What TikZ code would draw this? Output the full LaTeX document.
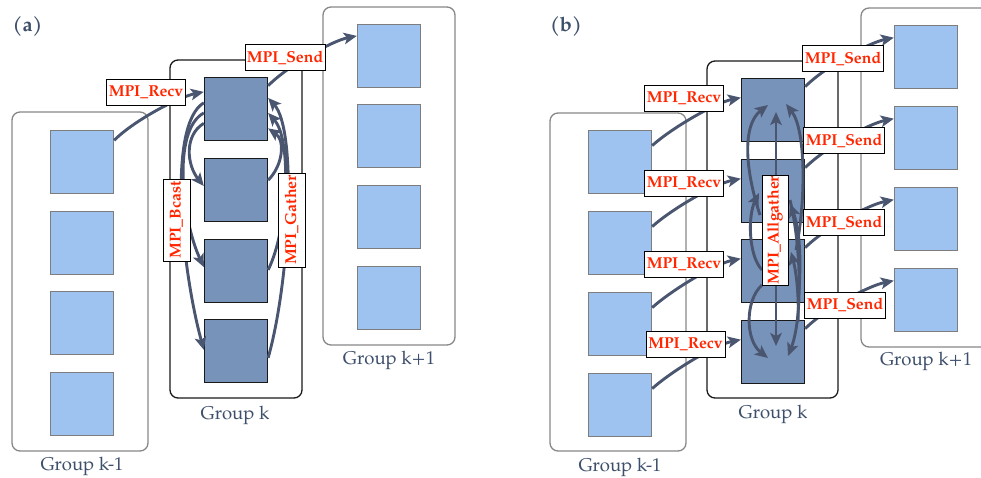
\documentclass[tikz,border=0pt]{standalone}
\usepackage{fontspec}
\setmainfont{TeX Gyre Pagella}
\usetikzlibrary{arrows.meta,calc}
\definecolor{lightsq}{RGB}{159,195,240}
\definecolor{darksq}{RGB}{120,147,185}
\definecolor{arrowc}{RGB}{74,86,112}
\definecolor{grptext}{RGB}{61,79,107}
\definecolor{lblred}{RGB}{255,38,0}
\definecolor{grpgray}{RGB}{135,135,135}
\definecolor{sqgray}{RGB}{125,125,125}
\begin{document}
\begin{tikzpicture}[x=1pt,y=-1pt,
  lsq/.style={draw=sqgray, fill=lightsq, line width=1.3pt, minimum width=63pt, minimum height=63pt, inner sep=0pt},
  dsq/.style={draw=black!90, fill=darksq, line width=1.3pt, minimum width=63pt, minimum height=63pt, inner sep=0pt},
  grpbox/.style={draw=grpgray, line width=1.3pt, rounded corners=8pt, inner sep=0pt},
  grpk/.style={grpbox, draw=black!90},
  grplabel/.style={text=grptext, font=\fontsize{18.5}{20}\selectfont, anchor=base, inner sep=0pt},
  panel/.style={text=grptext, font=\fontsize{20}{22}\selectfont\bfseries, inner sep=0pt},
  arr/.style={draw=arrowc, line width=2.9pt, -{Stealth[length=13pt,width=11.5pt,inset=3pt]}},
  darr/.style={draw=arrowc, line width=2.9pt, {Stealth[length=13pt,width=11.5pt,inset=3pt]}-{Stealth[length=13pt,width=11.5pt,inset=3pt]}},
  lbl/.style={draw=black, line width=1pt, fill=white, text=lblred, font=\fontsize{15.8}{18}\selectfont\bfseries, inner sep=0pt, minimum height=26pt}
]
\useasboundingbox (0,0) rectangle (981,477);
\clip (0,0) rectangle (981,477);

% ---------------- panel (a) ----------------
\node[panel] (pa) at (27.5,26) {(a)};
\node[grpbox, minimum width=136pt, minimum height=339pt] (gakm) at (80,281.5) {};
\node[grpk, minimum width=132pt, minimum height=338pt] (gak) at (236,229) {};
\node[grpbox, minimum width=132pt, minimum height=338pt] (gakp) at (389,176) {};
\node[grplabel] (lakm) at (82,470) {Group k-1};
\node[grplabel] (lak) at (235,419) {Group k};
\node[grplabel] (lakp) at (389,364) {Group k+1};

\node[lsq] (a1) at (82,162) {};
\node[lsq] (a2) at (82,243) {};
\node[lsq] (a3) at (82,323) {};
\node[lsq] (a4) at (82,404) {};
\node[dsq] (b1) at (236,109) {};
\node[dsq] (b2) at (236,190) {};
\node[dsq] (b3) at (236,271) {};
\node[dsq] (b4) at (236,351) {};
\node[lsq] (c1) at (389,56) {};
\node[lsq] (c2) at (389,136) {};
\node[lsq] (c3) at (389,217) {};
\node[lsq] (c4) at (389,298) {};

\draw[arr] (a1.34) .. controls +(20,-20) and +(-25,5) .. (b1.152);
\draw[arr] (b1.36) .. controls +(20,-20) and +(-25,5) .. (c1.148);
% Bcast
\draw[arr] (b1.169) .. controls +(-37,22) and +(-22,-80) .. (b4.178);
\draw[arr] (b1.187) .. controls +(-32,17) and +(-22,-47) .. (b3.173);
\draw[arr] (b1.204) .. controls +(-20,12) and +(-17,-21) .. (b2.173);
% Gather
\draw[arr] (b4.348) .. controls +(22,-78) and +(29,32) .. (b1.19);
\draw[arr] (b3.2) .. controls +(20,-40) and +(24,27) .. (b1.353);
\draw[arr] (b2.17) .. controls +(15,-15) and +(17,12) .. (b1.329);

\node[lbl, minimum width=79pt] (la1) at (146,92) {MPI\_Recv};
\node[lbl, minimum width=80pt] (la2) at (285,57.5) {MPI\_Send};
\node[lbl, minimum width=82pt, minimum height=27pt, rotate=90] (la3) at (176.5,220) {MPI\_Bcast};
\node[lbl, minimum width=94pt, minimum height=27pt, rotate=90] (la4) at (291.5,220) {MPI\_Gather};

% ---------------- panel (b) ----------------
\node[panel] (pb) at (566,26) {(b)};
\node[grpbox, minimum width=136pt, minimum height=338pt] (gbkm) at (618,282) {};
\node[grpk, minimum width=131pt, minimum height=337pt] (gbk) at (772.5,229.5) {};
\node[grpbox, minimum width=130pt, minimum height=339pt] (gbkp) at (926,177.5) {};
\node[grplabel] (lbkm) at (620,471) {Group k-1};
\node[grplabel] (lbk) at (773,418) {Group k};
\node[grplabel] (lbkp) at (926,365) {Group k+1};

\node[lsq] (p1) at (620,162) {};
\node[lsq] (p2) at (620,243) {};
\node[lsq] (p3) at (620,324) {};
\node[lsq] (p4) at (620,405) {};
\node[dsq] (q1) at (773,110) {};
\node[dsq] (q2) at (773,191) {};
\node[dsq] (q3) at (773,271) {};
\node[dsq] (q4) at (773,352) {};
\node[lsq] (r1) at (926,57) {};
\node[lsq] (r2) at (926,138) {};
\node[lsq] (r3) at (926,219) {};
\node[lsq] (r4) at (926,300) {};

\foreach \i in {1,2,3,4}{
  \draw[arr] (p\i.27) .. controls +(20,-18) and +(-25,5) .. (q\i.159);
  \draw[arr] (q\i.36) .. controls +(20,-20) and +(-25,5) .. (r\i.149);
}

% Allgather
\coordinate (agt) at (776,112);
\coordinate (agb) at (776,346);
\coordinate (ga1) at (760,215);  \coordinate (ta1) at (768,105);
\coordinate (ga2) at (762,270);  \coordinate (ta2) at (759,193);
\coordinate (ga3) at (762,285);  \coordinate (ta3) at (768,358);
\coordinate (ga4) at (796,250);  \coordinate (ta4) at (786,104);
\coordinate (ga5) at (799,290);  \coordinate (ta5) at (790,204);
\coordinate (ga6) at (798,322);  \coordinate (ta6) at (791,252);
\coordinate (ga7) at (790,200);  \coordinate (ta7) at (788,356);
\draw[darr] (agt) -- (agb);
\draw[arr] (ga1) .. controls (745,170) and (742,125) .. (ta1);
\draw[arr] (ga2) .. controls (748,255) and (748,215) .. (ta2);
\draw[arr] (ga3) .. controls (745,300) and (745,340) .. (ta3);
\draw[arr] (ga4) .. controls (806,200) and (806,130) .. (ta4);
\draw[arr] (ga5) .. controls (801,260) and (800,230) .. (ta5);
\draw[arr] (ga6) .. controls (799,300) and (797,275) .. (ta6);
\draw[arr] (ga7) .. controls (802,250) and (802,320) .. (ta7);

\node[lbl, minimum width=79pt] (lr1) at (684,98) {MPI\_Recv};
\node[lbl, minimum width=79pt] (lr2) at (684,183.5) {MPI\_Recv};
\node[lbl, minimum width=79pt] (lr3) at (684,264) {MPI\_Recv};
\node[lbl, minimum width=79pt] (lr4) at (685.5,344.5) {MPI\_Recv};
\node[lbl, minimum width=81pt] (ls1) at (843,58.5) {MPI\_Send};
\node[lbl, minimum width=81pt] (ls2) at (844,140.5) {MPI\_Send};
\node[lbl, minimum width=81pt] (ls3) at (844,222.5) {MPI\_Send};
\node[lbl, minimum width=81pt] (ls4) at (845,305) {MPI\_Send};
\node[lbl, minimum width=110pt, rotate=90] (lag) at (775,230) {MPI\_Allgather};
\end{tikzpicture}
\end{document}
